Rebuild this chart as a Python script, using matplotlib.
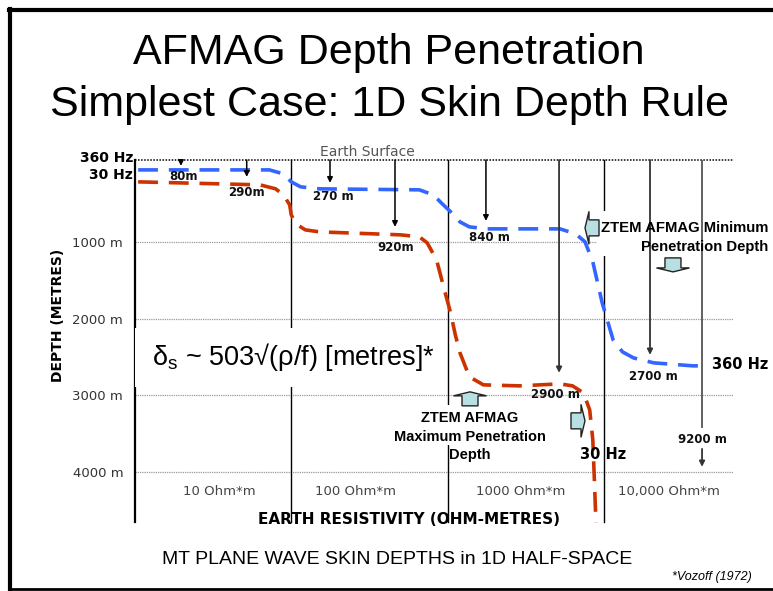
import matplotlib
matplotlib.use("Agg")
import matplotlib.pyplot as plt
import matplotlib.transforms as mtransforms
from matplotlib.patches import Polygon, Rectangle
from matplotlib.lines import Line2D

plt.rcParams['font.family'] = ['DejaVu Sans']
plt.rcParams['mathtext.default'] = 'regular'

# ---------------- data ----------------
# x axis: resistivity columns (0..4 => 1..10^4 Ohm*m, one column per decade)
resistivity_labels = ["10 Ohm*m", "100 Ohm*m", "1000 Ohm*m", "10,000 Ohm*m"]
resistivity_label_x = [0.54, 1.41, 2.47, 3.42]
decade_lines = [0, 1, 2, 3]

depth_ticks = [1000, 2000, 3000, 4000]
depth_tick_labels = ["1000 m", "2000 m", "3000 m", "4000 m"]
surface_depth = -70

# 360 Hz curve (x = resistivity column position, depth in metres)
blue_x = [0.02, 0.86, 0.95, 1.00, 1.06, 1.18, 1.82, 1.91, 1.96, 2.02, 2.08, 2.14,
          2.25, 2.72, 2.82, 2.88, 2.93, 2.99, 3.06, 3.12, 3.19, 3.32, 3.57, 3.62]
blue_depth = [59, 59, 111, 215, 280, 306, 319, 385, 489, 606, 737, 802,
              828, 828, 893, 997, 1258, 1793, 2275, 2432, 2510, 2575, 2614, 2614]

# 30 Hz curve
red_x = [0.02, 0.80, 0.90, 0.95, 0.99, 1.00, 1.03, 1.09, 1.18, 1.70, 1.82, 1.87,
         1.93, 1.98, 2.02, 2.05, 2.08, 2.14, 2.23, 2.46, 2.72, 2.80, 2.87, 2.91,
         2.93, 2.94, 2.95]
red_depth = [215, 254, 306, 385, 515, 645, 763, 841, 867, 906, 932, 1010,
             1232, 1623, 1923, 2210, 2445, 2757, 2862, 2875, 2849, 2875, 2966, 3188,
             3579, 4100, 4661]

# skin depth arrows / labels
skin_labels = ["80m", "290m", "270 m", "920m", "840 m", "2900 m", "2700 m", "9200 m"]
arrow_x = [0.294, 0.715, 1.248, 1.664, 2.246, 2.714, 3.296, 3.629]
arrow_end = [7, 150, 228, 802, 724, 2705, 2471, 3410]
arrow_color = ["black", "black", "black", "black", "black", "#555555", "#555555", "#555555"]
label_x = [0.31, 0.712, 1.267, 1.67, 2.27, 2.69, 3.32, 3.63]
label_depth = [150, 360, 411, 1076, 945, 2992, 2757, 3579]
deep_arrow = [3697, 3931]   # continuation of 9200 m arrow below its label

# block arrows: tip (x, depth), direction
block_tips_x = [2.88, 3.443, 2.144, 2.88]
block_tips_d = [815, 1389, 2953, 3331]
block_dirs = ["left", "down", "up", "right"]

# ---------------- figure ----------------
W, H = 773, 591
fig = plt.figure(figsize=(W / 100, H / 100), dpi=100)
fig.patch.set_facecolor("white")

# slide frame
frame = fig.add_axes([0, 0, 1, 1])
frame.set_xlim(0, W)
frame.set_ylim(H, 0)
frame.axis("off")
frame.add_line(Line2D([10, 10], [9, 590], color="black", lw=3))
frame.add_line(Line2D([9, W], [10, 10], color="black", lw=3))
frame.add_line(Line2D([9, W], [589, 589], color="black", lw=2))

ax = fig.add_axes([135 / W, 1 - 522 / H, 625 / W, 362 / H])
ax.set_xlim(0, 4)
ax.set_ylim(4650, surface_depth)
for s in ax.spines.values():
    s.set_visible(False)
ax.set_facecolor("none")
ax.set_xticks([])
ax.set_yticks(depth_ticks)
ax.set_yticklabels(depth_tick_labels, fontsize=9.5, color="#333333")
ax.tick_params(axis="y", length=0, pad=8.5)

grid_right = 3.83
for d in depth_ticks:
    ax.plot([0, grid_right], [d, d], color="#9a9a9a", lw=0.9, ls=(0, (1, 0.8)), zorder=1)
ax.plot([0, grid_right], [surface_depth, surface_depth], color="black", lw=1.1,
        ls=(0, (1, 1)), zorder=1, clip_on=False)
for i, xv in enumerate(decade_lines):
    ax.plot([xv, xv], [surface_depth, 4650], color="black", lw=1.6 if i == 0 else 1.0,
            zorder=1, clip_on=False)

# white boxes covering lines
ax.add_patch(Rectangle((-0.01, 2119), 1.847, 769, facecolor="white", edgecolor="none", zorder=2))
ax.add_patch(Rectangle((2.957, 593), 1.1, 587, facecolor="white", edgecolor="none", zorder=2))
ax.add_patch(Rectangle((1.62, 3123), 1.05, 521, facecolor="white", edgecolor="none", zorder=2))

# curves
ax.plot(blue_x, blue_depth, color="#3366FF", lw=2.6, ls=(0, (5.5, 3)),
        solid_capstyle="butt", dash_capstyle="butt", zorder=3, clip_on=False)
ax.plot(red_x, red_depth, color="#CC3300", lw=2.6, ls=(0, (5.5, 3)),
        solid_capstyle="butt", dash_capstyle="butt", zorder=3, clip_on=False)

# skin-depth arrows
for xv, de, c in zip(arrow_x, arrow_end, arrow_color):
    if xv == arrow_x[-1]:
        ax.plot([xv, xv], [surface_depth, de], color=c, lw=1.3, zorder=3)
    else:
        ax.annotate("", xy=(xv, de), xytext=(xv, surface_depth),
                    arrowprops=dict(arrowstyle="-|>", color="black" if c == "black" else "#333333",
                                    lw=1.1 if c == "black" else 1.3, mutation_scale=8,
                                    shrinkA=0, shrinkB=0), zorder=3)
ax.annotate("", xy=(arrow_x[-1], deep_arrow[1]), xytext=(arrow_x[-1], deep_arrow[0]),
            arrowprops=dict(arrowstyle="-|>", color="#333333", lw=1.3, mutation_scale=8,
                            shrinkA=0, shrinkB=0), zorder=3)
for t, xv, dv in zip(skin_labels, label_x, label_depth):
    ax.text(xv, dv, t, ha="center", va="center", fontsize=8.5, fontweight="bold",
            color="#111111", zorder=4)

# block arrows (shape in pixels, anchored at data tip)
def block_arrow(xv, dv, direction, L=14, hl=4, hw=33, tw=16):
    pts = [(0, 0), (-hl, hw / 2), (-hl, tw / 2), (-L, tw / 2), (-L, -tw / 2),
           (-hl, -tw / 2), (-hl, -hw / 2)]
    rot = {"right": lambda p: (p[0], p[1]), "left": lambda p: (-p[0], p[1]),
           "up": lambda p: (p[1], p[0]), "down": lambda p: (p[1], -p[0])}[direction]
    pts = [tuple(v / 100 for v in rot(p)) for p in pts]
    tr = fig.dpi_scale_trans + mtransforms.ScaledTranslation(xv, dv, ax.transData)
    ax.add_patch(Polygon(pts, closed=True, transform=tr, facecolor="#B8E0E2",
                         edgecolor="#222222", lw=1.0, zorder=5, clip_on=False))

for xv, dv, dr in zip(block_tips_x, block_tips_d, block_dirs):
    block_arrow(xv, dv, dr)

# annotation texts
ax.text(4.051, 815, "ZTEM AFMAG Minimum", ha="right", va="center", fontsize=10.7,
        fontweight="bold", family="Liberation Sans", zorder=4, clip_on=False)
ax.text(4.051, 1063, "Penetration Depth", ha="right", va="center", fontsize=10.7,
        fontweight="bold", family="Liberation Sans", zorder=4, clip_on=False)
ax.text(2.144, 3292, "ZTEM AFMAG", ha="center", va="center", fontsize=10.5,
        fontweight="bold", family="Liberation Sans", zorder=4)
ax.text(2.144, 3540, "Maximum Penetration", ha="center", va="center", fontsize=10.5,
        fontweight="bold", family="Liberation Sans", zorder=4)
ax.text(2.144, 3774, "Depth", ha="center", va="center", fontsize=10.5,
        fontweight="bold", family="Liberation Sans", zorder=4)

ax.text(2.995, 3774, "30 Hz", ha="center", va="center", fontsize=10.5,
        fontweight="bold", zorder=4)
ax.text(3.693, 2601, "360 Hz", ha="left", va="center", fontsize=10.5,
        fontweight="bold", zorder=4, clip_on=False)
ax.text(-0.013, -90, "360 Hz", ha="right", va="center", fontsize=10,
        fontweight="bold", zorder=4, clip_on=False)
ax.text(-0.013, 120, "30 Hz", ha="right", va="center", fontsize=10,
        fontweight="bold", zorder=4, clip_on=False)

ax.text(1.488, -178, "Earth Surface", ha="center", va="center", fontsize=10,
        color="#555555", zorder=4, clip_on=False)

for t, xv in zip(resistivity_labels, resistivity_label_x):
    ax.text(xv, 4255, t, ha="center", va="center", fontsize=9.5, color="#444444", zorder=4)

ax.text(0.11, 2500, "δ$_s$ ~ 503√(ρ/f) [metres]*", ha="left", va="center", fontsize=19.5,
        family="Liberation Sans", zorder=4)

# figure-level texts (pixel positions converted to fraction)
def fx(px):
    return px / W

def fy(py):
    return 1 - py / H

fig.text(fx(389), fy(64), "AFMAG Depth Penetration", ha="center", va="baseline",
         fontsize=31, family="Liberation Sans")
fig.text(fx(389), fy(116), "Simplest Case: 1D Skin Depth Rule", ha="center", va="baseline",
         fontsize=31, family="Liberation Sans")
fig.text(fx(58), fy(315), "DEPTH (METRES)", rotation=90, ha="center", va="center",
         fontsize=10, fontweight="bold")
fig.text(fx(409), fy(519), "EARTH RESISTIVITY (OHM-METRES)", ha="center", va="center",
         fontsize=11, fontweight="bold", zorder=5)
fig.text(fx(397), fy(559), "MT PLANE WAVE SKIN DEPTHS in 1D HALF-SPACE", ha="center",
         va="center", fontsize=14, family="Liberation Sans")
fig.text(fx(752), fy(577), "*Vozoff (1972)", ha="right", va="center", fontsize=9,
         style="italic", family="Liberation Sans")

fig.savefig("out.png", dpi=100, facecolor="white")
